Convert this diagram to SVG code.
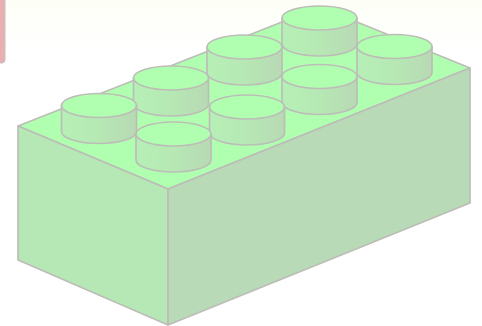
<svg xmlns="http://www.w3.org/2000/svg" width="482" height="326" viewBox="0 0 482 326">
<style>
.e{stroke:#bdbdb8;stroke-width:1.7;stroke-linejoin:round}
.t{fill:#b0ffb0}
.s{fill:url(#g)}
</style>
<defs>
<linearGradient id="g" x1="0" x2="1" y1="0" y2="0"><stop offset="0" stop-color="#b6f0b6"/><stop offset="0.5" stop-color="#b6e8b4"/><stop offset="1" stop-color="#b8d9b4"/></linearGradient>
<linearGradient id="bg" x1="0" x2="0" y1="0" y2="1"><stop offset="0" stop-color="#fdfff6"/><stop offset="1" stop-color="#ffffff"/></linearGradient>
<filter id="soft" x="-5%" y="-5%" width="110%" height="110%"><feGaussianBlur stdDeviation="0.45"/></filter>
<g id="stud">
<path class="e s" d="M-37.5 0V26A37.5 12 0 0 0 37.5 26V0Z"/>
<ellipse class="e t" rx="37.5" ry="12"/>
</g>
</defs>
<rect width="482" height="326" fill="#fff"/>
<rect width="482" height="50" fill="url(#bg)"/>
<g filter="url(#soft)">
<path id="tab" d="M-4 -4H5V60Q5 63 2 63H-4Z" fill="#e8b0b0" stroke="#c8c0c0" stroke-width="1"/>
<g id="brick">
<path id="top" class="e t" d="M18 126L320 7L470 68L168 189Z"/>
<path id="front" class="e" fill="#b6e8b6" d="M18 126L168 189V325L18 260Z"/>
<path id="side" class="e" fill="#b8dab6" d="M168 189L470 68V203L168 325Z"/>
</g>
<g id="studs">
<use id="stud5" href="#stud" x="319.5" y="18"/>
<use id="stud4" href="#stud" x="244.5" y="47"/>
<use id="stud6" href="#stud" x="394.5" y="46.5"/>
<use id="stud2" href="#stud" x="171" y="78"/>
<use id="stud7" href="#stud" x="319.5" y="76.5"/>
<use id="stud1" href="#stud" x="99" y="105.5"/>
<use id="stud8" href="#stud" x="247" y="107"/>
<use id="stud3" href="#stud" x="173.5" y="134"/>
</g>
</g>
</svg>
